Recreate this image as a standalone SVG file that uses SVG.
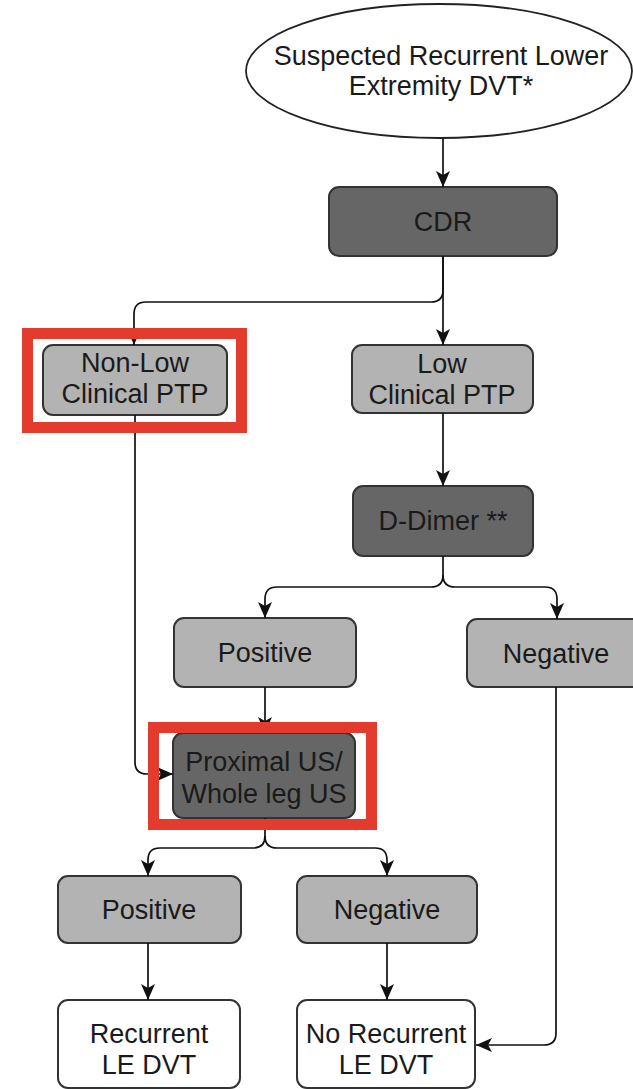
<svg xmlns="http://www.w3.org/2000/svg" width="633" height="1089" viewBox="0 0 633 1089">
<style>
text{font-family:"Liberation Sans",Arial,Helvetica,sans-serif;font-size:27px;fill:#1a1a1a;text-anchor:middle}
.dark{fill:#666666;stroke:#333;stroke-width:2}
.light{fill:#b3b3b3;stroke:#333;stroke-width:2}
.white{fill:#fff;stroke:#333;stroke-width:2}
.conn path{fill:none;stroke:#111;stroke-width:1.7}
.hl{fill:none;stroke:#e33b2e;stroke-width:11}
</style>
<defs>
<marker id="arr" viewBox="0 0 16 16" refX="16" refY="8" markerWidth="16" markerHeight="16" markerUnits="userSpaceOnUse" orient="auto">
<path d="M0,1 L16,8 L0,15 L4,8 z" fill="#111"/>
</marker>
</defs>
<rect width="633" height="1089" fill="#fff"/>
<g id="start">
<ellipse cx="439" cy="71" rx="193" ry="67" fill="#fff" stroke="#222" stroke-width="1.8"/>
<text x="441" y="65">Suspected Recurrent Lower</text>
<text x="441" y="95">Extremity DVT*</text>
</g>
<g id="cdr"><rect class="dark" x="329" y="187" width="228" height="69" rx="10"/><text x="443" y="231">CDR</text></g>
<g id="nonlow"><rect class="light" x="43" y="345" width="184" height="70" rx="10"/><text x="135" y="372">Non-Low</text><text x="135" y="403">Clinical PTP</text></g>
<g id="low"><rect class="light" x="352" y="345" width="181" height="68" rx="10"/><text x="442" y="373">Low</text><text x="442" y="404">Clinical PTP</text></g>
<g id="ddimer"><rect class="dark" x="353" y="486" width="180" height="70" rx="10"/><text x="443" y="530">D-Dimer **</text></g>
<g id="positive1"><rect class="light" x="174" y="618" width="182" height="69" rx="10"/><text x="265" y="662">Positive</text></g>
<g id="negative1"><rect class="light" x="467" y="619" width="180" height="68" rx="10"/><text x="556" y="663">Negative</text></g>
<g id="proximal"><rect class="dark" x="173" y="733" width="182" height="85" rx="10"/><text x="264" y="771">Proximal US/</text><text x="264" y="803">Whole leg US</text></g>
<g id="positive2"><rect class="light" x="58" y="876" width="183" height="67" rx="10"/><text x="149" y="919">Positive</text></g>
<g id="negative2"><rect class="light" x="297" y="876" width="180" height="67" rx="10"/><text x="387" y="919">Negative</text></g>
<g id="recurrent"><rect class="white" x="58" y="1000" width="182" height="88" rx="10"/><text x="149" y="1043">Recurrent</text><text x="149" y="1074">LE DVT</text></g>
<g id="norecurrent"><rect class="white" x="297" y="1000" width="178" height="88" rx="10"/><text x="386" y="1043">No Recurrent</text><text x="386" y="1074">LE DVT</text></g>
<g class="conn" id="connectors">
<path d="M443,138 L443,187" marker-end="url(#arr)"/>
<path d="M443,256 L443,345" marker-end="url(#arr)"/>
<path d="M443,256 L443,290 Q443,302 431,302 L146,302 Q134,302 134,314 L134,345" marker-end="url(#arr)"/>
<path d="M443,413 L443,486" marker-end="url(#arr)"/>
<path d="M443,556 L443,575 Q443,587 431,587 L277,587 Q265,587 265,599 L265,618" marker-end="url(#arr)"/>
<path d="M443,575 Q443,587 455,587 L545,587 Q557,587 557,599 L557,619" marker-end="url(#arr)"/>
<path d="M265,687 L265,733" marker-end="url(#arr)"/>
<path d="M135,415 L135,762 Q135,774 147,774 L173,774" marker-end="url(#arr)"/>
<path d="M265,818 L265,836 Q265,848 253,848 L160,848 Q148,848 148,860 L148,876" marker-end="url(#arr)"/>
<path d="M265,836 Q265,848 277,848 L375,848 Q387,848 387,860 L387,876" marker-end="url(#arr)"/>
<path d="M148,943 L148,1000" marker-end="url(#arr)"/>
<path d="M387,943 L387,1000" marker-end="url(#arr)"/>
<path d="M556,687 L556,1033 Q556,1045 544,1045 L476,1045" marker-end="url(#arr)"/>
</g>
<g id="highlights">
<rect class="hl" x="27.5" y="333.5" width="214" height="94"/>
<rect class="hl" x="153.5" y="727.5" width="218" height="97"/>
</g>
</svg>
